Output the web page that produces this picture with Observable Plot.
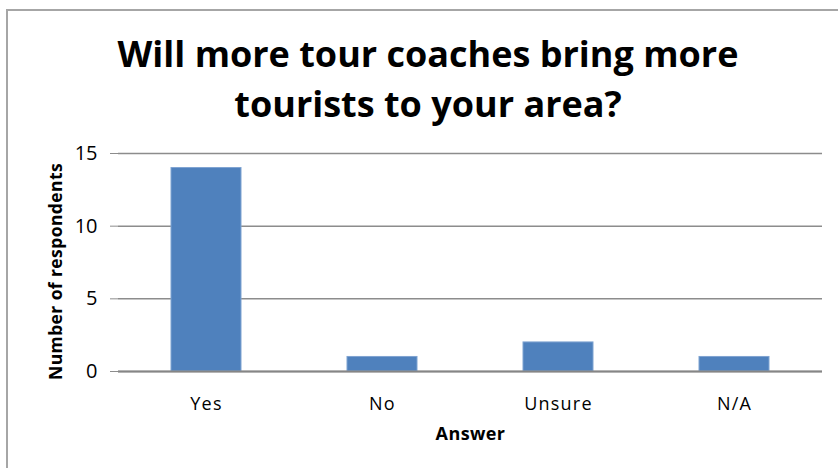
<!DOCTYPE html>
<html>
<head>
<meta charset="utf-8">
<script src="https://cdn.jsdelivr.net/npm/d3@7"></script>
<script src="https://cdn.jsdelivr.net/npm/@observablehq/plot@0.6"></script>
<style>
  html, body { margin: 0; padding: 0; background: #fff; }
  #wrap { position: relative; width: 838px; height: 468px; overflow: hidden; font-family: "Open Sans", sans-serif; }
  #border { position: absolute; left: 6px; top: 9px; width: 850px; height: 500px; border: 2px solid #a6a6a6; box-sizing: border-box; }
  #title { position: absolute; left: 18px; width: 820px; top: 29px; text-align: center; font-family: "Open Sans", sans-serif; font-weight: 700; font-size: 36px; line-height: 50px; color: #000; letter-spacing: 0px; }
  #chart { position: absolute; left: 0; top: 0; }
</style>
</head>
<body>
<div id="wrap">
  <div id="border"></div>
  <div id="chart"></div>
  <div id="title">Will more tour coaches bring more<br>tourists to your area?</div>
</div>
<script>
const answers = ["Yes", "No", "Unsure", "N/A"];
const respondents = [14, 1, 2, 1];
const yTicks = [0, 5, 10, 15];

const data = answers.map((a, i) => ({answer: a, count: respondents[i]}));

const chart = Plot.plot({
  width: 838,
  height: 468,
  marginLeft: 118,
  marginRight: 16,
  marginTop: 153,
  marginBottom: 97,
  style: {fontFamily: "Open Sans, sans-serif", fontSize: "17px", color: "#000", background: "transparent"},
  x: {domain: answers, paddingInner: 0.6, paddingOuter: 0.3, label: null},
  y: {domain: [0, 15], label: null},
  marks: [
    Plot.gridY(yTicks, {stroke: "#8c8c8c", strokeOpacity: 1, strokeWidth: 1.5}),
    Plot.barY(data, {x: "answer", y: "count", fill: "#4f81bd", stroke: "#7fa3d1", strokeWidth: 1}),
    Plot.ruleY([0], {stroke: "#868686", strokeWidth: 2}),
    Plot.ruleX([0], {frameAnchor: "left", stroke: "#8c8c8c", strokeWidth: 1.5}),
    Plot.axisY(yTicks, {tickSize: 8, tickPadding: 13, stroke: "#8c8c8c", fontSize: 20, label: null, className: "yax"}),
    Plot.axisX({tickSize: 0, tickPadding: 26, fontSize: 18, label: null, className: "xax"}),
    Plot.text(["Answer"], {frameAnchor: "bottom", dy: 68, fontWeight: "bold", fontSize: 18, className: "xlab"}),
    Plot.text(["Number of respondents"], {frameAnchor: "left", textAnchor: "middle", dx: -62, dy: 9, rotate: -90, fontWeight: "bold", fontSize: 17.5, className: "ylab"})
  ]
});
chart.querySelectorAll(".xax text").forEach(t => { t.style.letterSpacing = "1.2px"; t.style.fontSize = "18px"; });
chart.querySelectorAll(".yax text").forEach(t => { t.style.fontSize = "20px"; });
chart.querySelectorAll(".xlab text").forEach(t => { t.style.letterSpacing = "0.4px"; t.style.fontSize = "18px"; });
chart.querySelectorAll(".ylab text").forEach(t => { t.style.letterSpacing = "0.4px"; t.style.fontSize = "17.5px"; });
document.getElementById("chart").appendChild(chart);
</script>
</body>
</html>
